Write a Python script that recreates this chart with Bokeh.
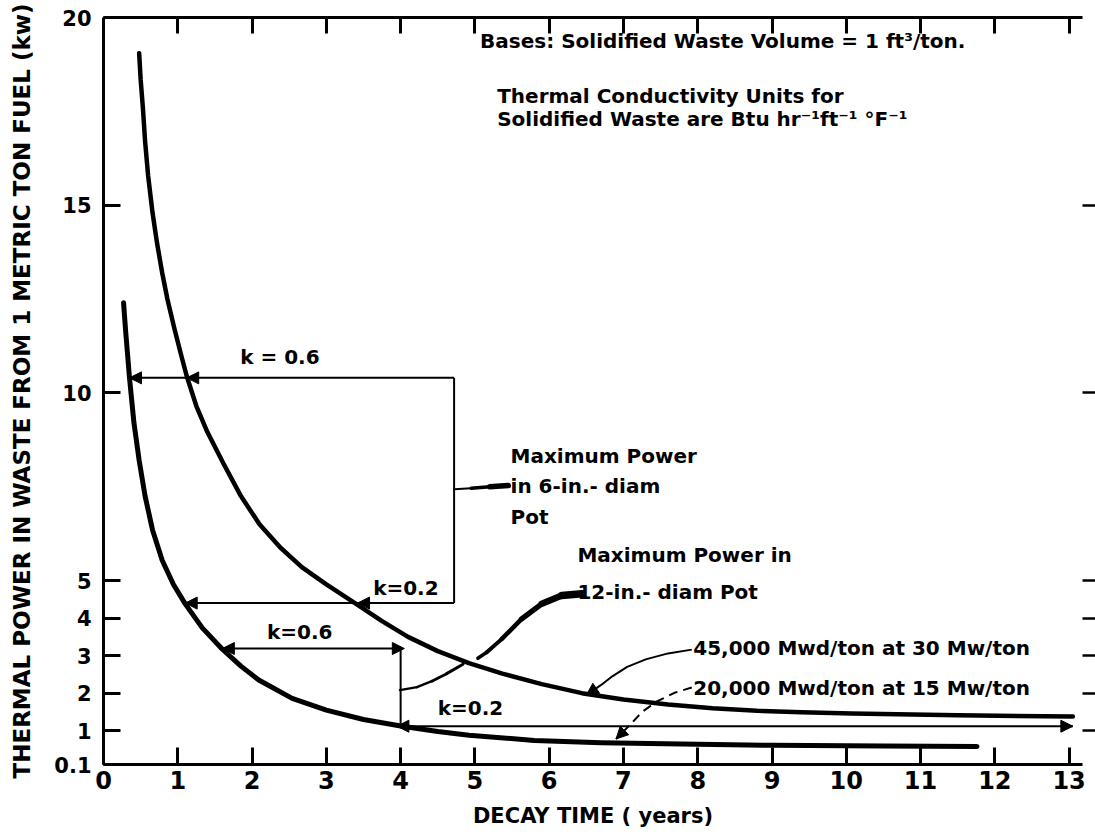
from bokeh.plotting import figure
from bokeh.models import Range1d, FixedTicker, LinearAxis, Arrow, NormalHead, ColumnDataSource
from bokeh.core.properties import value
from bokeh.embed import file_html
from bokeh.resources import INLINE

FONT = "DejaVu Sans"

# ---------------- data ----------------
# 45,000 Mwd/ton at 30 Mw/ton (upper curve)
x_45k = [0.48, 0.50, 0.53, 0.56, 0.60, 0.66, 0.72, 0.79, 0.86, 0.95, 1.04, 1.12, 1.25, 1.40, 1.62,
         1.85, 2.10, 2.38, 2.67, 3.00, 3.40, 3.75, 4.10, 4.50, 4.92, 5.37, 5.90, 6.44, 7.00, 7.60,
         8.20, 8.80, 9.40, 10.07, 11.50, 13.05]
y_45k = [19.05, 18.35, 17.6, 16.7, 15.8, 14.8, 14.0, 13.2, 12.5, 11.75, 11.05, 10.45, 9.65, 8.95, 8.1,
         7.25, 6.50, 5.88, 5.36, 4.90, 4.38, 3.92, 3.50, 3.12, 2.80, 2.52, 2.24, 2.00, 1.83, 1.70,
         1.60, 1.53, 1.49, 1.46, 1.41, 1.38]
# 20,000 Mwd/ton at 15 Mw/ton (lower curve)
x_20k = [0.27, 0.30, 0.35, 0.41, 0.48, 0.56, 0.66, 0.79, 0.94, 1.10, 1.33, 1.60, 1.85, 2.09, 2.54,
         3.00, 3.50, 4.02, 4.50, 4.92, 5.80, 6.70, 8.00, 9.00, 10.50, 11.76]
y_20k = [12.4, 11.6, 10.4, 9.2, 8.2, 7.25, 6.35, 5.54, 4.9, 4.38, 3.74, 3.17, 2.72, 2.35, 1.86,
         1.55, 1.30, 1.12, 0.98, 0.88, 0.74, 0.68, 0.64, 0.61, 0.59, 0.58]

x_ticks = list(range(0, 14))
x_tick_labels = [str(t) for t in x_ticks]
y_ticks = [0.1, 1, 2, 3, 4, 5, 10, 15, 20]
y_tick_labels = ["0.1", "1", "2", "3", "4", "5", "10", "15", "20"]
right_ticks = [1, 2, 3, 4, 5, 10, 15]
top_ticks = list(range(1, 14))

# max-power brackets (6-in. pot and 12-in. pot)
pot6_k06, pot6_k02, pot6_right = 10.4, 4.4, 4.72
pot6_k06_left, pot6_k02_left = 0.35, 1.10
pot6_k06_cross, pot6_k02_cross = 1.12, 3.42
pot12_k06, pot12_k02, pot12_x = 3.19, 1.12, 4.0
pot12_k06_left, pot12_k02_right = 1.60, 13.05

# leader lines
lead6_x = [4.72, 4.95, 5.2, 5.45]
lead6_y = [7.43, 7.46, 7.5, 7.53]
lead12a_x = [6.44, 6.17, 5.90, 5.63, 5.36, 5.16, 5.04]
lead12a_y = [4.65, 4.60, 4.38, 3.98, 3.44, 3.09, 2.93]
lead12a_w = [7.5, 6.5, 5.5, 4.5, 4.0, 3.5]
lead12b_x = [4.84, 4.62, 4.42, 4.22, 3.99]
lead12b_y = [2.77, 2.52, 2.32, 2.16, 2.08]
lead12b_w = [3.0, 2.8, 2.5, 2.2]
lead45_x = [7.92, 7.60, 7.30, 7.05, 6.85, 6.70, 6.50]
lead45_y = [3.16, 3.06, 2.90, 2.70, 2.45, 2.22, 1.95]
lead20_x = [7.92, 7.70, 7.45, 7.25, 7.10, 6.90]
lead20_y = [2.15, 2.02, 1.78, 1.50, 1.18, 0.78]

# annotation texts
note_x = [5.07, 5.30, 5.30]
note_y = [19.38, 17.90, 17.29]
note_text = ["Bases: Solidified Waste Volume = 1 ft\u00b3/ton.",
             "Thermal Conductivity Units for",
             "Solidified Waste are Btu  hr\u207b\u00b9ft\u207b\u00b9 \u00b0F\u207b\u00b9"]
k_x = [1.84, 3.63, 2.20, 4.50]
k_y = [10.96, 4.80, 3.63, 1.60]
k_text = ["k = 0.6", "k=0.2", "k=0.6", "k=0.2"]
lab_x = [5.48, 5.48, 5.48, 6.38, 6.38, 7.94, 7.94]
lab_y = [8.31, 7.51, 6.70, 5.69, 4.70, 3.20, 2.13]
lab_text = ["Maximum Power", "in 6-in.- diam", "Pot",
            "Maximum Power in", "12-in.- diam Pot",
            "45,000 Mwd/ton at 30 Mw/ton", "20,000 Mwd/ton at 15 Mw/ton"]

# ---------------- figure ----------------
p = figure(width=1095, height=837, x_range=Range1d(0, 13.18), y_range=Range1d(0.1, 20),
           output_backend="svg", toolbar_location=None,
           min_border_left=103, min_border_right=13, min_border_top=17, min_border_bottom=73)
p.outline_line_color = None
p.grid.grid_line_color = None

xa = p.xaxis[0]
xa.ticker = FixedTicker(ticks=x_ticks)
xa.major_label_overrides = {t: s for t, s in zip(x_ticks, x_tick_labels)}
xa.axis_label = "DECAY TIME ( years)"
ya = p.yaxis[0]
ya.ticker = FixedTicker(ticks=y_ticks)
ya.major_label_overrides = {t: s for t, s in zip(y_ticks, y_tick_labels)}
ya.axis_label = "THERMAL POWER IN WASTE FROM 1 METRIC TON FUEL (kw)"

for ax in (xa, ya):
    ax.axis_line_width = 3
    ax.axis_line_color = "black"
    ax.major_tick_line_width = 3
    ax.major_tick_in = 17
    ax.major_tick_out = 0
    ax.minor_tick_line_color = None
    ax.major_label_text_font = FONT
    ax.major_label_text_font_style = "bold"
    ax.major_label_text_color = "black"
    ax.axis_label_text_font = FONT
    ax.axis_label_text_font_style = "bold"
    ax.axis_label_text_color = "black"
xa.major_label_text_font_size = "24px"
xa.major_label_standoff = 6
xa.axis_label_text_font_size = "21px"
xa.axis_label_standoff = 12
ya.major_label_text_font_size = "21px"
ya.major_label_standoff = 12
ya.axis_label_text_font_size = "23px"
ya.axis_label_standoff = 16

top = LinearAxis(ticker=FixedTicker(ticks=top_ticks), axis_line_width=3, major_tick_line_width=3,
                 major_tick_in=16, major_tick_out=0, minor_tick_line_color=None,
                 major_label_text_font_size="1px", major_label_text_color=None)
p.add_layout(top, "above")
right = LinearAxis(ticker=FixedTicker(ticks=right_ticks), axis_line_color=None, major_tick_line_width=2.5,
                   major_tick_in=0, major_tick_out=13, minor_tick_line_color=None,
                   major_label_text_font_size="1px", major_label_text_color=None)
p.add_layout(right, "right")

# curves
p.line(x_45k, y_45k, line_width=4.5, color="black", line_join="round", line_cap="round")
p.line(x_20k, y_20k, line_width=5, color="black", line_join="round", line_cap="round")

# brackets
seg = ColumnDataSource(dict(
    x0=[pot6_k06_left, pot6_right, pot6_right, pot12_k06_left, pot12_x, pot12_x],
    y0=[pot6_k06, pot6_k06, pot6_k02, pot12_k06, pot12_k06, pot12_k02],
    x1=[pot6_right, pot6_right, pot6_k02_left, pot12_x, pot12_x, pot12_k02_right],
    y1=[pot6_k06, pot6_k02, pot6_k02, pot12_k06, pot12_k02, pot12_k02]))
p.segment("x0", "y0", "x1", "y1", source=seg, line_width=2, color="black")

# arrow heads: tip (xe, ye), coming from (xs, ys)
heads = ColumnDataSource(dict(
    xs=[pot6_k06_left + 0.3, pot6_k06_cross + 0.3, pot6_k02_left + 0.3, pot6_k02_cross + 0.3,
        pot12_k06_left + 0.3, pot12_x - 0.25, pot12_x + 0.3, pot12_k02_right - 0.3,
        lead45_x[-2], lead20_x[-2]],
    ys=[pot6_k06, pot6_k06, pot6_k02, pot6_k02, pot12_k06, pot12_k06, pot12_k02, pot12_k02,
        lead45_y[-2], lead20_y[-2]],
    xe=[pot6_k06_left, pot6_k06_cross, pot6_k02_left, pot6_k02_cross,
        pot12_k06_left, pot12_x + 0.05, pot12_x - 0.05, pot12_k02_right,
        lead45_x[-1], lead20_x[-1]],
    ye=[pot6_k06, pot6_k06, pot6_k02, pot6_k02, pot12_k06, pot12_k06, pot12_k02, pot12_k02,
        lead45_y[-1], lead20_y[-1]]))
p.add_layout(Arrow(source=heads, x_start="xs", y_start="ys", x_end="xe", y_end="ye", line_alpha=0,
                   end=NormalHead(size=12, fill_color="black", line_color="black", line_width=1)))

# leaders
p.multi_line([lead6_x[i:i + 2] for i in range(3)], [lead6_y[i:i + 2] for i in range(3)],
             line_width=[2, 3.5, 5.5], color="black", line_cap="round")
p.multi_line([lead12a_x[i:i + 2] for i in range(len(lead12a_w))],
             [lead12a_y[i:i + 2] for i in range(len(lead12a_w))],
             line_width=lead12a_w, color="black", line_cap="round")
p.multi_line([lead12b_x[i:i + 2] for i in range(len(lead12b_w))],
             [lead12b_y[i:i + 2] for i in range(len(lead12b_w))],
             line_width=lead12b_w, color="black", line_cap="round")
p.line(lead45_x, lead45_y, line_width=2, color="black", line_join="round")
p.line(lead20_x, lead20_y, line_width=2, color="black", line_dash="9 6", line_join="round")

# texts
p.text(note_x, note_y, text=note_text, text_font=value(FONT), text_font_style="bold",
       text_font_size="20px", text_baseline="middle", text_align="left", text_color="black")
p.text(k_x, k_y, text=k_text, text_font=value(FONT), text_font_style="bold",
       text_font_size="20px", text_baseline="middle", text_align="left", text_color="black")
p.text(lab_x, lab_y, text=lab_text, text_font=value(FONT), text_font_style="bold",
       text_font_size="20px", text_baseline="middle", text_align="left", text_color="black")

open("out.html", "w").write(file_html(p, INLINE))
